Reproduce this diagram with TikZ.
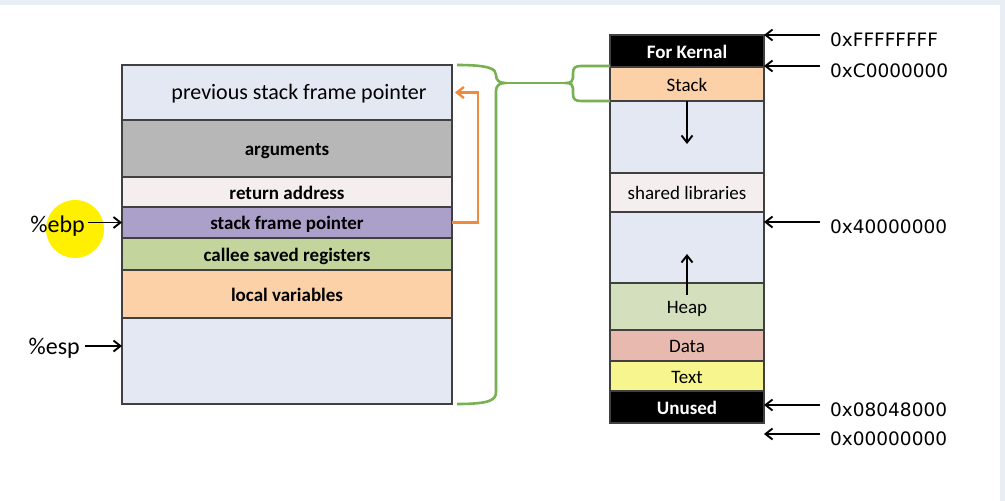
\documentclass[tikz,border=0pt]{standalone}
\usepackage{fontspec}
\setmainfont{Carlito}
\newfontfamily\addrfont{DejaVu Sans}
\usetikzlibrary{arrows.meta}
\definecolor{pageedge}{HTML}{E9EEF5}
\definecolor{freeblue}{HTML}{E3E8F3}
\definecolor{argsgrey}{HTML}{B7B7B7}
\definecolor{retwhite}{HTML}{F4EFEE}
\definecolor{sfppurple}{HTML}{ABA0C9}
\definecolor{calleegreen}{HTML}{C3D59C}
\definecolor{localpeach}{HTML}{FCD1A8}
\definecolor{heapgreen}{HTML}{D4DFBD}
\definecolor{datared}{HTML}{E8B9AE}
\definecolor{textyellow}{HTML}{F7F58E}
\definecolor{hiyellow}{HTML}{FFF000}
\definecolor{ptrorange}{HTML}{F08A3C}
\definecolor{bracegreen}{HTML}{77B154}

\begin{document}
\begin{tikzpicture}[x=1pt,y=-1pt,
		cell/.style={draw=black!75,line width=1.4pt,inner sep=0pt,outer sep=0pt,anchor=north west,text height=14pt,text depth=0pt,font=\fontsize{19}{22}\selectfont},
		bcell/.style={cell,font=\fontsize{19}{22}\selectfont\bfseries},
		lcell/.style={minimum width=330pt},
		rcell/.style={minimum width=154pt},
		reg/.style={anchor=east,inner sep=0pt,font=\fontsize{24}{28}\selectfont},
		addr/.style={anchor=west,inner sep=0pt,font=\addrfont\fontsize{18.5}{22}\selectfont},
		ptr/.style={-{Straight Barb[length=7pt,width=11pt]},line width=1.9pt},
		oarr/.style={-{Straight Barb[length=7pt,width=11pt]},draw=ptrorange,line width=2.4pt},
		brace/.style={draw=bracegreen,line width=2.6pt}]
	\fill[pageedge] (0,0) rectangle (1005,501);
	\fill[white] (0,5) rectangle (1000,501);
	\useasboundingbox (0,0) rectangle (1005,501);
	\fill[hiyellow] (75,229) circle (29pt);

	\node[cell,lcell,fill=freeblue,minimum height=55pt,font=\fontsize{22}{26}\selectfont] (prev) at (122,65) {\hspace*{24pt}previous stack frame pointer};
	\node[bcell,lcell,fill=argsgrey,minimum height=57pt] (args) at (prev.south west) {arguments};
	\node[bcell,lcell,fill=retwhite,minimum height=30pt] (ret) at (args.south west) {return address};
	\node[bcell,lcell,fill=sfppurple,minimum height=31pt] (sfp) at (ret.south west) {stack frame pointer};
	\node[bcell,lcell,fill=calleegreen,minimum height=32pt] (callee) at (sfp.south west) {callee saved registers};
	\node[bcell,lcell,fill=localpeach,minimum height=48pt] (local) at (callee.south west) {local variables};
	\node[cell,lcell,fill=freeblue,minimum height=86pt] (free) at (local.south west) {};

	\node[reg] (ebp) at (85,226) {\%ebp};
	\node[reg] (esp) at (80,348) {\%esp};
	\draw[ptr] ([xshift=3pt]ebp.east |- sfp.west) -- (sfp.west);
	\draw[ptr] ([xshift=5pt]esp.east |- 0,346) -- (free.west |- 0,346);
	\draw[oarr] (sfp.east) -- ++(26,0) |- ([xshift=3pt]prev.east);

	\node[bcell,rcell,fill=black,text=white,minimum height=32pt] (kern) at (610,35) {For Kernal};
	\node[cell,rcell,fill=localpeach,minimum height=34pt] (stack) at (kern.south west) {Stack};
	\node[cell,rcell,fill=freeblue,minimum height=72pt] (gapA) at (stack.south west) {};
	\node[cell,rcell,fill=retwhite,minimum height=39pt] (shlib) at (gapA.south west) {shared libraries};
	\node[cell,rcell,fill=freeblue,minimum height=71pt] (gapB) at (shlib.south west) {};
	\node[cell,rcell,fill=heapgreen,minimum height=47pt] (heap) at (gapB.south west) {Heap};
	\node[cell,rcell,fill=datared,minimum height=31pt] (data) at (heap.south west) {Data};
	\node[cell,rcell,fill=textyellow,minimum height=30pt] (txt) at (data.south west) {Text};
	\node[bcell,rcell,fill=black,text=white,minimum height=32pt] (unused) at (txt.south west) {Unused};

	\draw[ptr] (stack.south) -- ++(0,43);
	\draw[ptr] ([yshift=-12pt]heap.north) -- ++(0,-41);

	\coordinate (pF) at (820,35);
	\coordinate (pC) at (820,66);
	\coordinate (p4) at (820,222);
	\coordinate (p8) at (820,405);
	\coordinate (p0) at (820,434);
	\draw[ptr] (pF) -- (pF -| kern.east);
	\draw[ptr] (pC) -- (pC -| kern.east);
	\draw[ptr] (p4) -- (p4 -| gapB.east);
	\draw[ptr] (p8) -- (p8 -| unused.east);
	\draw[ptr] (p0) -- (p0 -| unused.east);
	\node[addr] (aF) at ([xshift=10pt,yshift=-5pt]pF) {0xFFFFFFFF};
	\node[addr] (aC) at ([xshift=10pt,yshift=-5pt]pC) {0xC0000000};
	\node[addr] (a4) at ([xshift=10pt,yshift=-5pt]p4) {0x40000000};
	\node[addr] (a8) at ([xshift=10pt,yshift=-5pt]p8) {0x08048000};
	\node[addr] (a0) at ([xshift=10pt,yshift=-5pt]p0) {0x00000000};

	\coordinate (ltip) at (505,83);
	\coordinate (rtip) at (566,83);
	\draw[brace] ([xshift=5pt]prev.north east) .. controls (490,65) and (496,69) .. (496,75) .. controls (496,80) and (499,83) .. (ltip) .. controls (499,83) and (496,86) .. (496,91) -- (496,392) .. controls (496,400) and (490,404) .. ([xshift=5pt]free.south east);
	\draw[brace] (kern.south west |- 0,66) -- (581,66) .. controls (575,66) and (573,68) .. (573,73) -- (573,78) .. controls (573,81) and (571,83) .. (rtip) .. controls (571,83) and (573,85) .. (573,88) -- (573,94) .. controls (573,99) and (575,101) .. (581,101) -- (stack.south west);
	\draw[brace] (ltip) -- (rtip);
\end{tikzpicture}
\end{document}
